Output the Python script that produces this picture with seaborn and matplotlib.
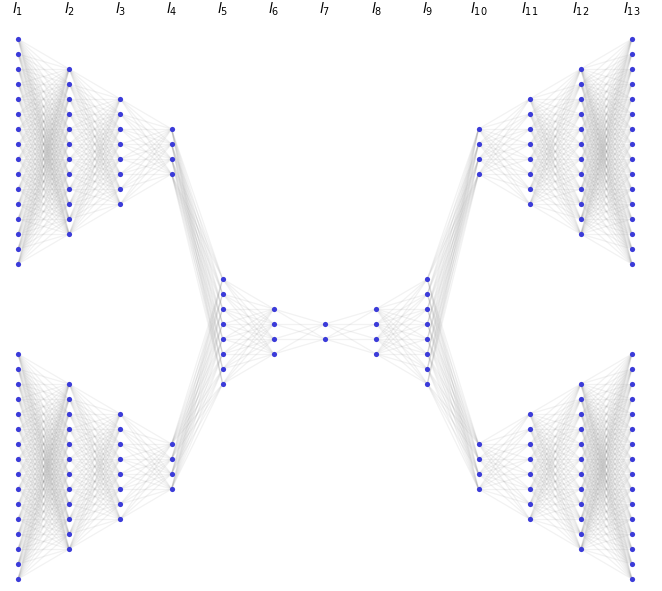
import numpy as np
import pandas as pd
import seaborn as sns
import matplotlib.pyplot as plt
from matplotlib.collections import LineCollection

# layer data
layer_labels = ['$l_{%d}$' % i for i in range(1, 14)]
layer_sizes = [16, 12, 8, 4, 8, 4, 2, 4, 8, 4, 8, 12, 16]
branched = [True, True, True, True, False, False, False, False, False, True, True, True, True]
top_center = 12.0
mid_center = 0.0
bottom_center = -9.0

sns.set_theme(style='white')
plt.rcParams['font.family'] = ['DejaVu Sans']

fig = plt.figure(figsize=(6.62, 5.91), dpi=100)
ax = fig.add_axes([0, 0, 1, 1])

# build node table
rows = []
for i, (n, br) in enumerate(zip(layer_sizes, branched)):
    centers = [('top', top_center), ('bottom', bottom_center)] if br else [('mid', mid_center)]
    for g, c in centers:
        ys = c + (np.arange(n) - (n - 1) / 2.0)[::-1]
        for y in ys:
            rows.append({'layer': i, 'group': g, 'x': float(i), 'y': float(y)})
nodes = pd.DataFrame(rows)

# edges: full connection between consecutive layers (same branch, or branch <-> mid)
segs = []
for i in range(len(layer_sizes) - 1):
    a = nodes[nodes.layer == i]
    b = nodes[nodes.layer == i + 1]
    for _, ra in a.iterrows():
        for _, rb in b.iterrows():
            if ra.group == rb.group or ra.group == 'mid' or rb.group == 'mid':
                segs.append([(ra.x, ra.y), (rb.x, rb.y)])
lc = LineCollection(segs, colors='#8a8a8a', linewidths=0.9, alpha=0.11, zorder=1)
ax.add_collection(lc)

sns.scatterplot(data=nodes, x='x', y='y', color='#3b3bd9', s=14, linewidth=0,
                zorder=3, ax=ax, legend=False)

for i, lab in enumerate(layer_labels):
    ax.text(i, 21.5, lab, ha='center', va='center', fontsize=10, color='black')

ax.set_xlim(-0.352, 12.586)
ax.set_ylim(-17.3, 22.1)
ax.axis('off')

fig.savefig('out.png', dpi=100)
